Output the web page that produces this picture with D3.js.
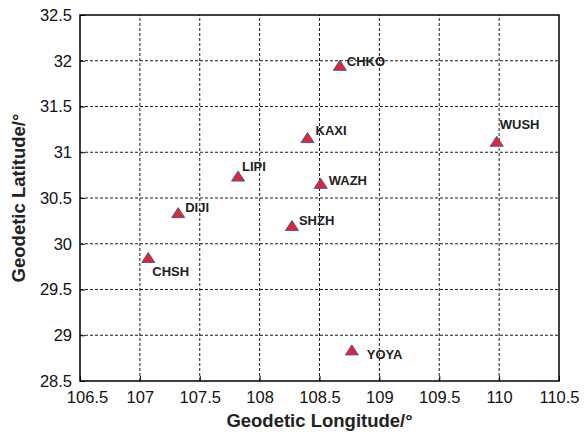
<!DOCTYPE html>
<html>
<head>
<meta charset="utf-8">
<script src="https://cdn.jsdelivr.net/npm/d3@7"></script>
<style>
  body { margin: 0; background: #fff; }
  svg { display: block; font-family: "Liberation Sans", Arial, sans-serif; }
</style>
</head>
<body>
<div id="chart"></div>
<script>
var stations = ["CHSH", "DIJI", "LIPI", "WAZH", "SHZH", "CHKO", "KAXI", "WUSH", "YOYA"];
var longitudes = [107.07, 107.32, 107.82, 108.51, 108.27, 108.67, 108.40, 109.98, 108.77];
var latitudes = [29.85, 30.34, 30.74, 30.66, 30.20, 31.95, 31.16, 31.12, 28.84];
var xTicks = [106.5, 107, 107.5, 108, 108.5, 109, 109.5, 110, 110.5];
var yTicks = [28.5, 29, 29.5, 30, 30.5, 31, 31.5, 32, 32.5];

// label offsets from marker centre (dx, dy to baseline)
var labelOffsets = {
    CHSH: [4, 19], DIJI: [7, -1], LIPI: [4, -5], WAZH: [8, 2], SHZH: [7, 0],
    CHKO: [7, 1], KAXI: [8, -3], WUSH: [3, -12], YOYA: [15, 9]
};

var w = 587, h = 436,
    margin = { left: 80, right: 28, top: 15, bottom: 55 };

var svg = d3.select("#chart").append("svg")
    .attr("width", w)
    .attr("height", h);

var x = d3.scaleLinear().domain([106.5, 110.5]).range([margin.left, w - margin.right]);
var y = d3.scaleLinear().domain([28.5, 32.5]).range([h - margin.bottom, margin.top]);

// grid
svg.append("g").selectAll("line")
    .data(xTicks.slice(1, -1))
    .enter().append("line")
    .attr("x1", function (d) { return x(d); })
    .attr("x2", function (d) { return x(d); })
    .attr("y1", y(28.5))
    .attr("y2", y(32.5))
    .attr("stroke", "#000")
    .attr("stroke-width", 0.9)
    .attr("stroke-dasharray", "3,2");

svg.append("g").selectAll("line")
    .data(yTicks.slice(1, -1))
    .enter().append("line")
    .attr("y1", function (d) { return y(d); })
    .attr("y2", function (d) { return y(d); })
    .attr("x1", x(106.5))
    .attr("x2", x(110.5))
    .attr("stroke", "#000")
    .attr("stroke-width", 0.9)
    .attr("stroke-dasharray", "3,2");

// axes
var xAxis = svg.append("g")
    .attr("transform", "translate(0," + y(28.5) + ")")
    .call(d3.axisBottom(x).tickValues(xTicks).tickSize(-5).tickPadding(10).tickFormat(d3.format("")));
var yAxis = svg.append("g")
    .attr("transform", "translate(" + x(106.5) + ",0)")
    .call(d3.axisLeft(y).tickValues(yTicks).tickSize(-5).tickPadding(8).tickFormat(d3.format("")));

[xAxis, yAxis].forEach(function (a) {
    a.select(".domain").remove();
    a.selectAll("text")
        .attr("font-size", 16.5)
        .attr("font-family", "'Liberation Sans', Arial, sans-serif")
        .attr("fill", "#111");
    a.selectAll(".tick line").attr("stroke", "#000");
});
// first longitude label sits a little right of its tick in the original
xAxis.selectAll(".tick text").filter(function (d) { return d === 106.5; }).attr("dx", 7);

// frame
svg.append("rect")
    .attr("x", x(106.5))
    .attr("y", y(32.5))
    .attr("width", x(110.5) - x(106.5))
    .attr("height", y(28.5) - y(32.5))
    .attr("fill", "none")
    .attr("stroke", "#000")
    .attr("stroke-width", 1.5);

// station markers: flat triangle, about 13 wide by 10 high
var flatTriangle = {
    draw: function (context, size) {
        var hw = 6.5, hh = 5;
        context.moveTo(0, -hh);
        context.lineTo(hw, hh);
        context.lineTo(-hw, hh);
        context.closePath();
    }
};
var tri = d3.symbol().type(flatTriangle);

svg.append("g").selectAll("path")
    .data(stations)
    .enter().append("path")
    .attr("d", tri)
    .attr("transform", function (d, i) {
        return "translate(" + x(longitudes[i]) + "," + y(latitudes[i]) + ")";
    })
    .attr("fill", "#e3262b")
    .attr("stroke", "#4656a8")
    .attr("stroke-width", 1);

svg.append("g").selectAll("text")
    .data(stations)
    .enter().append("text")
    .attr("x", function (d, i) { return x(longitudes[i]) + labelOffsets[d][0]; })
    .attr("y", function (d, i) { return y(latitudes[i]) + labelOffsets[d][1]; })
    .attr("font-size", 13)
    .attr("font-weight", "bold")
    .attr("fill", "#222")
    .text(function (d) { return d; });

// axis titles
svg.append("text")
    .attr("x", (x(106.5) + x(110.5)) / 2)
    .attr("y", 427)
    .attr("text-anchor", "middle")
    .attr("font-size", 18.5)
    .attr("font-weight", "bold")
    .attr("fill", "#222")
    .text("Geodetic Longitude/°");

svg.append("text")
    .attr("transform", "translate(25," + (y(28.5) + y(32.5)) / 2 + ") rotate(-90)")
    .attr("text-anchor", "middle")
    .attr("font-size", 18.5)
    .attr("font-weight", "bold")
    .attr("fill", "#222")
    .text("Geodetic Latitude/°");
</script>
</body>
</html>
